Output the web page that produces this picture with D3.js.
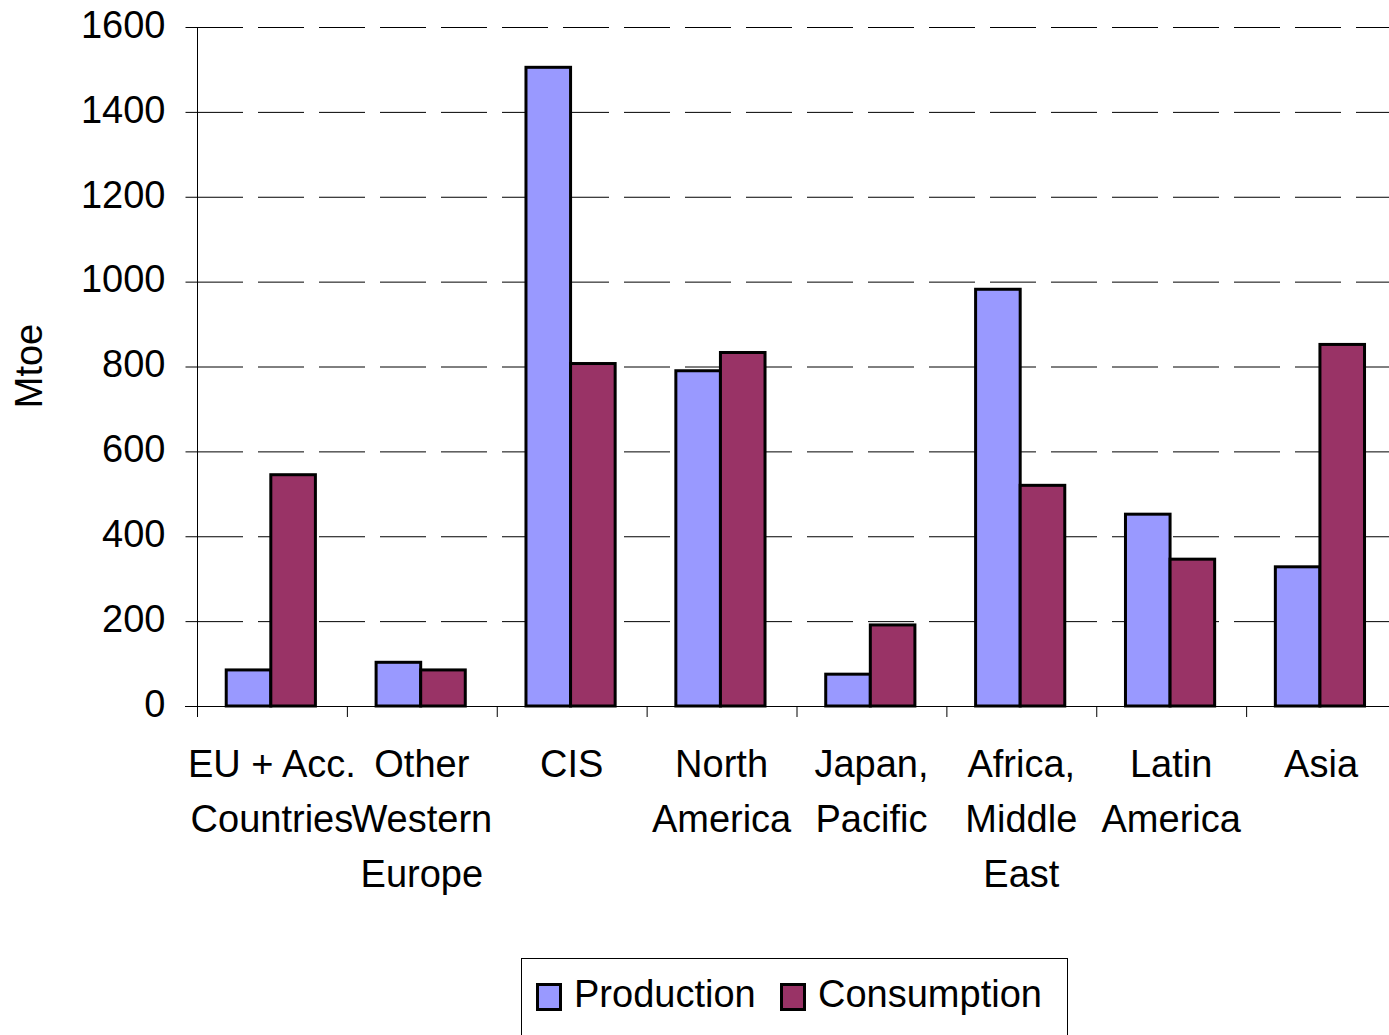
<!DOCTYPE html>
<html>
<head>
<meta charset="utf-8">
<script src="https://cdn.jsdelivr.net/npm/d3@7"></script>
<style>
  body { margin: 0; background: #fff; }
  text { font-family: "Liberation Sans", Arial, sans-serif; fill: #000; }
</style>
</head>
<body>
<div id="chart"></div>
<script>
const categories = [
  ["EU + Acc.", "Countries"],
  ["Other", "Western", "Europe"],
  ["CIS"],
  ["North", "America"],
  ["Japan,", "Pacific"],
  ["Africa,", "Middle", "East"],
  ["Latin", "America"],
  ["Asia"]
];
const series = ["Production", "Consumption"];
const production = [85, 103, 1505, 790, 75, 982, 452, 328];
const consumption = [545, 85, 807, 833, 191, 520, 346, 852];
const yTicks = [0, 200, 400, 600, 800, 1000, 1200, 1400, 1600];
const colors = { Production: "#9999FF", Consumption: "#993366" };

const W = 1389, H = 1035;
const PLOT = { left: 197, right: 1396, top: 27, bottom: 706 };
const FONT = 38;

const svg = d3.select("#chart").append("svg")
  .attr("width", W).attr("height", H);

const idx = d3.range(categories.length);
const x0 = d3.scaleBand().domain(idx).range([PLOT.left, PLOT.right]).padding(0);
const bw = x0.bandwidth();
const x1 = d3.scaleBand().domain(series).range([bw * 0.195, bw * 0.79]).padding(0);
const y = d3.scaleLinear().domain([0, 1600]).range([PLOT.bottom, PLOT.top]);

// gridlines (dashed)
svg.append("g").selectAll("line")
  .data(yTicks.filter(d => d > 0))
  .join("line")
  .attr("x1", PLOT.left).attr("x2", PLOT.right)
  .attr("y1", d => y(d) + 0.5).attr("y2", d => y(d) + 0.5)
  .attr("stroke", "#000").attr("stroke-width", 1)
  .attr("stroke-dasharray", "46,15");

// bars
const rows = idx.map(i => ({ i, Production: production[i], Consumption: consumption[i] }));
const grp = svg.append("g").selectAll("g")
  .data(rows).join("g")
  .attr("transform", d => `translate(${x0(d.i)},0)`);
grp.selectAll("rect")
  .data(d => series.map(s => ({ s, v: d[s] })))
  .join("rect")
  .attr("x", d => x1(d.s))
  .attr("y", d => y(d.v))
  .attr("width", x1.bandwidth())
  .attr("height", d => y(0) - y(d.v))
  .attr("fill", d => colors[d.s])
  .attr("stroke", "#000").attr("stroke-width", 3);

// y axis
const yAxis = d3.axisLeft(y).tickValues(yTicks).tickFormat(d3.format("d"))
  .tickSize(12).tickPadding(20);
const gy = svg.append("g").attr("transform", `translate(${PLOT.left + 0.5},0)`).call(yAxis);
gy.select(".domain").attr("stroke", "#000").attr("d", `M0,${PLOT.top}V${PLOT.bottom}`);
gy.selectAll(".tick line").attr("stroke", "#000");
gy.selectAll(".tick text")
  .style("font-family", '"Liberation Sans", Arial, sans-serif')
  .attr("font-size", FONT).attr("dy", "0.27em");

// x axis line and ticks
const gx = svg.append("g");
gx.append("line")
  .attr("x1", PLOT.left - 12).attr("x2", PLOT.right)
  .attr("y1", PLOT.bottom + 0.5).attr("y2", PLOT.bottom + 0.5)
  .attr("stroke", "#000");
gx.selectAll(".xt")
  .data(idx.concat([categories.length]))
  .join("line").attr("class", "xt")
  .attr("x1", d => (d < categories.length ? x0(d) : PLOT.right) + 0.5)
  .attr("x2", d => (d < categories.length ? x0(d) : PLOT.right) + 0.5)
  .attr("y1", PLOT.bottom).attr("y2", PLOT.bottom + 11)
  .attr("stroke", "#000");

// category labels
const labels = svg.append("g").selectAll("text")
  .data(idx).join("text")
  .attr("text-anchor", "middle")
  .attr("font-size", FONT)
  .attr("x", d => x0(d) + bw / 2)
  .attr("y", 777);
labels.selectAll("tspan")
  .data(d => categories[d])
  .join("tspan")
  .attr("x", function () { return d3.select(this.parentNode).attr("x"); })
  .attr("dy", (d, i) => i === 0 ? 0 : 55)
  .text(d => d);

// y title
svg.append("text")
  .attr("transform", `translate(42,366) rotate(-90)`)
  .attr("text-anchor", "middle")
  .attr("font-size", FONT)
  .text("Mtoe");

// legend
const leg = svg.append("g");
leg.append("rect")
  .attr("x", 521.5).attr("y", 958.5).attr("width", 546).attr("height", 90)
  .attr("fill", "#fff").attr("stroke", "#000");
const legX = [536, 780];
series.forEach((s, i) => {
  leg.append("rect")
    .attr("x", legX[i] + 1.5).attr("y", 984.5).attr("width", 23).attr("height", 25)
    .attr("fill", colors[s]).attr("stroke", "#000").attr("stroke-width", 3);
  leg.append("text")
    .attr("x", legX[i] + 38).attr("y", 1007)
    .attr("font-size", FONT)
    .text(s);
});
</script>
</body>
</html>
